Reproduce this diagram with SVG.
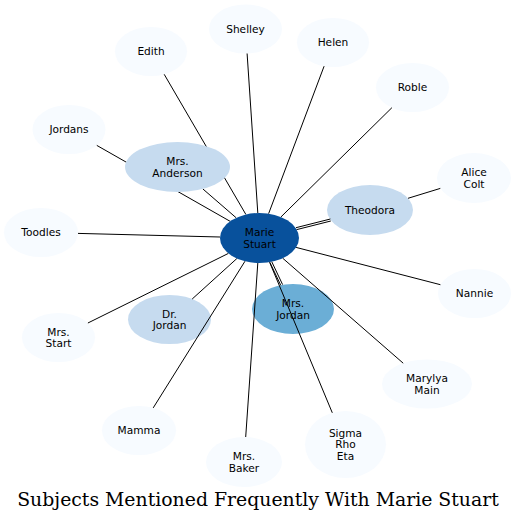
<svg xmlns="http://www.w3.org/2000/svg" width="516" height="522" viewBox="0 0 516 522">
<style>
.n0{fill:#f7fbff}
.n1{fill:#c6dbef}
.n2{fill:#6baed6}
.n3{fill:#08519c}
text{font-family:"DejaVu Sans",sans-serif;font-size:10.6px;fill:#000;text-anchor:middle}
.title{font-family:"DejaVu Serif",serif;font-size:18.85px}
#edges line{stroke:#000;stroke-width:1}
</style>
<rect width="516" height="522" fill="#fff"/>
<g id="node-shelley"><ellipse class="n0" cx="245.5" cy="29" rx="36.5" ry="24.5"/><text x="245.5" y="32.7">Shelley</text></g>
<g id="node-edith"><ellipse class="n0" cx="151" cy="51.5" rx="36" ry="24.5"/><text x="151" y="55.2">Edith</text></g>
<g id="node-helen"><ellipse class="n0" cx="333" cy="42.5" rx="36" ry="24.5"/><text x="333" y="46.2">Helen</text></g>
<g id="node-roble"><ellipse class="n0" cx="412.5" cy="87.5" rx="36.5" ry="24.5"/><text x="412.5" y="91.2">Roble</text></g>
<g id="node-jordans"><ellipse class="n0" cx="69" cy="129.5" rx="36.5" ry="24.5"/><text x="69" y="133.2">Jordans</text></g>
<g id="node-alicecolt"><ellipse class="n0" cx="474" cy="178" rx="37" ry="25"/><text x="474" y="176">Alice</text><text x="474" y="187.6">Colt</text></g>
<g id="node-theodora"><ellipse class="n1" cx="370" cy="210" rx="43" ry="25"/><text x="370" y="213.7">Theodora</text></g>
<g id="node-toodles"><ellipse class="n0" cx="41" cy="232.5" rx="37" ry="24.5"/><text x="41" y="236.2">Toodles</text></g>
<g id="node-nannie"><ellipse class="n0" cx="474.5" cy="293.5" rx="36.5" ry="24.5"/><text x="474.5" y="297.2">Nannie</text></g>
<g id="node-mrsjordan"><ellipse class="n2" cx="293" cy="309" rx="41" ry="25"/><text x="293" y="307">Mrs.</text><text x="293" y="318.6">Jordan</text></g>
<g id="node-drjordan"><ellipse class="n1" cx="169.5" cy="319.5" rx="41.5" ry="24.5"/><text x="169.5" y="317.5">Dr.</text><text x="169.5" y="329.1">Jordan</text></g>
<g id="node-mrsstart"><ellipse class="n0" cx="58.5" cy="337.5" rx="36.5" ry="24.5"/><text x="58.5" y="335.5">Mrs.</text><text x="58.5" y="347.1">Start</text></g>
<g id="node-marylyamain"><ellipse class="n0" cx="427" cy="384" rx="45" ry="24.5"/><text x="427" y="382">Marylya</text><text x="427" y="393.6">Main</text></g>
<g id="node-mamma"><ellipse class="n0" cx="139" cy="430.5" rx="37" ry="24.5"/><text x="139" y="434.2">Mamma</text></g>
<g id="node-sigmarhoeta"><ellipse class="n0" cx="345.5" cy="444.5" rx="40.5" ry="33.5"/><text x="345.5" y="436.5">Sigma</text><text x="345.5" y="448.2">Rho</text><text x="345.5" y="459.9">Eta</text></g>
<g id="node-mrsbaker"><ellipse class="n0" cx="244" cy="462" rx="38" ry="25"/><text x="244" y="460">Mrs.</text><text x="244" y="471.6">Baker</text></g>
<g id="edges">
<line x1="257.8" y1="213" x2="247.1" y2="53.5"/>
<line x1="245.9" y1="214.5" x2="164.2" y2="74.3"/>
<line x1="268.6" y1="213.7" x2="324.1" y2="66.2"/>
<line x1="280.9" y1="217" x2="391.9" y2="107.7"/>
<line x1="230.1" y1="221.3" x2="96.8" y2="145.4"/>
<line x1="236.2" y1="217.8" x2="202.8" y2="188.9"/>
<line x1="296.4" y1="229.7" x2="330.8" y2="221"/>
<line x1="296" y1="227.7" x2="330.4" y2="219"/>
<line x1="220" y1="237" x2="78" y2="233.4"/>
<line x1="296.1" y1="247.4" x2="440.4" y2="284.7"/>
<line x1="271.7" y1="261.6" x2="282.6" y2="284.6"/>
<line x1="269.9" y1="262.4" x2="280.8" y2="285.4"/>
<line x1="236.9" y1="258.5" x2="192.2" y2="299"/>
<line x1="228.4" y1="253.4" x2="87.9" y2="323"/>
<line x1="282.7" y1="258.2" x2="403.2" y2="363.2"/>
<line x1="245" y1="261.2" x2="153.2" y2="407.9"/>
<line x1="269.6" y1="262.2" x2="332.3" y2="412.8"/>
<line x1="257.8" y1="263" x2="245.7" y2="437"/>
<line x1="408" y1="198.3" x2="440.3" y2="188.4"/>
</g>
<g id="node-mrsanderson"><ellipse class="n1" cx="177.5" cy="167" rx="52.5" ry="25"/><text x="177.5" y="165">Mrs.</text><text x="177.5" y="176.6">Anderson</text></g>
<g id="node-mariestuart"><ellipse class="n3" cx="259.5" cy="238" rx="39.5" ry="25"/><text x="259.5" y="236">Marie</text><text x="259.5" y="247.6">Stuart</text></g>
<text class="title" x="258" y="506">Subjects Mentioned Frequently With Marie Stuart</text>
</svg>
